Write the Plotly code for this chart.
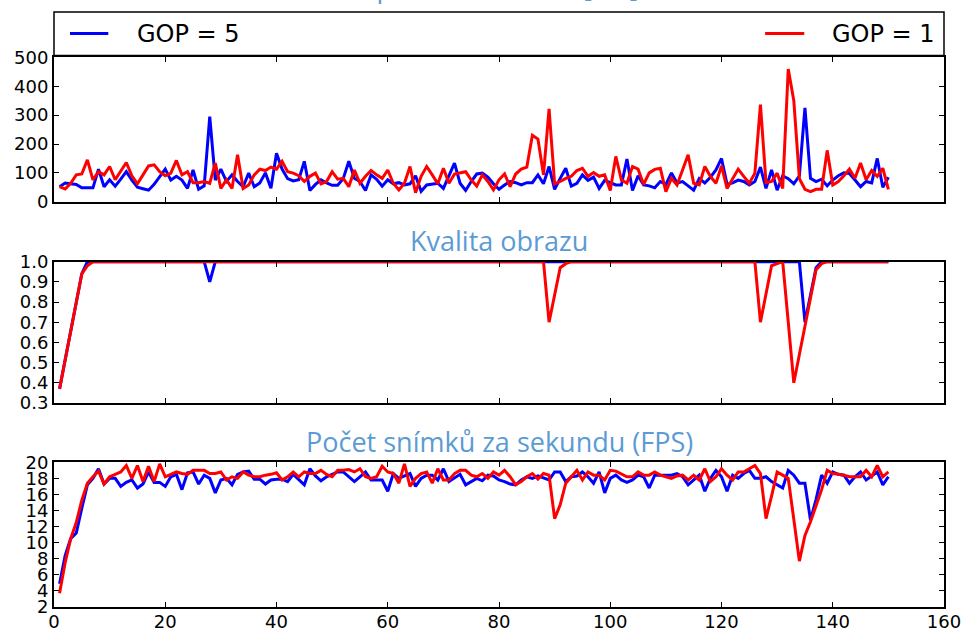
import plotly.graph_objects as go

frames = list(range(1, 151))

# Panel 1: delay [ms]
delay_gop5 = [
    52, 65, 62, 60, 48, 48, 48, 113, 52, 76,
    54, 78, 104, 75, 50, 45, 40, 60, 88, 113,
    75, 88, 75, 46, 110, 43, 55, 295, 75, 113,
    70, 93, 70, 52, 99, 52, 65, 100, 47, 168,
    113, 80, 72, 76, 140, 39, 60, 76, 65, 57,
    57, 80, 140, 81, 70, 39, 93, 78, 54, 76,
    62, 66, 58, 62, 90, 36, 58, 62, 64, 46,
    93, 134, 64, 39, 70, 96, 99, 85, 62, 43,
    58, 70, 66, 58, 66, 66, 93, 62, 122, 43,
    81, 116, 54, 64, 93, 74, 85, 46, 74, 66,
    58, 58, 148, 39, 90, 58, 55, 48, 70, 60,
    100, 65, 70, 55, 40, 80, 65, 85, 110, 150,
    60, 65, 75, 70, 58, 70, 120, 46, 110, 40,
    90, 80, 62, 90, 325, 81, 70, 78, 55, 75,
    90, 100, 98, 75, 52, 70, 65, 150, 50, 85,
]
delay_gop1 = [
    52, 44, 64, 93, 96, 145, 76, 104, 93, 122,
    76, 104, 136, 90, 62, 93, 124, 128, 104, 90,
    99, 143, 93, 104, 66, 66, 70, 64, 134, 46,
    76, 46, 163, 46, 58, 93, 113, 108, 120, 113,
    140, 104, 99, 90, 70, 88, 99, 62, 70, 104,
    78, 81, 52, 110, 64, 88, 108, 93, 81, 110,
    64, 41, 64, 122, 31, 88, 122, 93, 62, 116,
    64, 96, 101, 104, 76, 54, 93, 70, 41, 76,
    96, 52, 96, 113, 120, 230, 217, 93, 322, 62,
    70, 81, 88, 108, 116, 88, 101, 88, 93, 39,
    157, 76, 64, 122, 113, 60, 100, 112, 116, 35,
    81, 58, 110, 163, 64, 58, 122, 88, 64, 124,
    46, 80, 113, 88, 64, 99, 337, 66, 70, 99,
    46, 460, 350, 80, 43, 35, 43, 43, 178, 58,
    70, 90, 113, 81, 134, 76, 108, 88, 116, 43,
]

# Panel 2: image quality
quality_gop5 = [
    0.37, 0.51, 0.65, 0.80, 0.94, 1.0, 1.0, 1.0, 1.0, 1.0,
    1.0, 1.0, 1.0, 1.0, 1.0, 1.0, 1.0, 1.0, 1.0, 1.0,
    1.0, 1.0, 1.0, 1.0, 1.0, 1.0, 1.0, 0.90, 1.0, 1.0,
    1.0, 1.0, 1.0, 1.0, 1.0, 1.0, 1.0, 1.0, 1.0, 1.0,
    1.0, 1.0, 1.0, 1.0, 1.0, 1.0, 1.0, 1.0, 1.0, 1.0,
    1.0, 1.0, 1.0, 1.0, 1.0, 1.0, 1.0, 1.0, 1.0, 1.0,
    1.0, 1.0, 1.0, 1.0, 1.0, 1.0, 1.0, 1.0, 1.0, 1.0,
    1.0, 1.0, 1.0, 1.0, 1.0, 1.0, 1.0, 1.0, 1.0, 1.0,
    1.0, 1.0, 1.0, 1.0, 1.0, 1.0, 1.0, 1.0, 1.0, 1.0,
    1.0, 1.0, 1.0, 1.0, 1.0, 1.0, 1.0, 1.0, 1.0, 1.0,
    1.0, 1.0, 1.0, 1.0, 1.0, 1.0, 1.0, 1.0, 1.0, 1.0,
    1.0, 1.0, 1.0, 1.0, 1.0, 1.0, 1.0, 1.0, 1.0, 1.0,
    1.0, 1.0, 1.0, 1.0, 1.0, 1.0, 1.0, 1.0, 1.0, 1.0,
    1.0, 1.0, 1.0, 1.0, 0.70, 0.84, 0.97, 1.0, 1.0, 1.0,
    1.0, 1.0, 1.0, 1.0, 1.0, 1.0, 1.0, 1.0, 1.0, 1.0,
]
quality_gop1 = [
    0.37, 0.51, 0.65, 0.80, 0.94, 0.98, 1.0, 1.0, 1.0, 1.0,
    1.0, 1.0, 1.0, 1.0, 1.0, 1.0, 1.0, 1.0, 1.0, 1.0,
    1.0, 1.0, 1.0, 1.0, 1.0, 1.0, 1.0, 1.0, 1.0, 1.0,
    1.0, 1.0, 1.0, 1.0, 1.0, 1.0, 1.0, 1.0, 1.0, 1.0,
    1.0, 1.0, 1.0, 1.0, 1.0, 1.0, 1.0, 1.0, 1.0, 1.0,
    1.0, 1.0, 1.0, 1.0, 1.0, 1.0, 1.0, 1.0, 1.0, 1.0,
    1.0, 1.0, 1.0, 1.0, 1.0, 1.0, 1.0, 1.0, 1.0, 1.0,
    1.0, 1.0, 1.0, 1.0, 1.0, 1.0, 1.0, 1.0, 1.0, 1.0,
    1.0, 1.0, 1.0, 1.0, 1.0, 1.0, 1.0, 1.0, 0.70, 0.84,
    0.97, 0.99, 1.0, 1.0, 1.0, 1.0, 1.0, 1.0, 1.0, 1.0,
    1.0, 1.0, 1.0, 1.0, 1.0, 1.0, 1.0, 1.0, 1.0, 1.0,
    1.0, 1.0, 1.0, 1.0, 1.0, 1.0, 1.0, 1.0, 1.0, 1.0,
    1.0, 1.0, 1.0, 1.0, 1.0, 1.0, 0.70, 0.84, 0.98, 0.99,
    1.0, 0.70, 0.40, 0.54, 0.68, 0.83, 0.96, 0.99, 1.0, 1.0,
    1.0, 1.0, 1.0, 1.0, 1.0, 1.0, 1.0, 1.0, 1.0, 1.0,
]

# Panel 3: frames per second
fps_gop5 = [
    4.9, 8.4, 10.5, 11.2, 14.3, 17.2, 18.0, 19.2, 17.3, 18.0,
    18.0, 17.0, 17.5, 17.8, 16.8, 17.3, 18.8, 17.5, 17.5, 17.0,
    18.2, 18.5, 16.6, 18.7, 18.8, 17.3, 18.4, 18.0, 16.2, 17.8,
    18.0, 17.2, 18.5, 18.8, 18.9, 17.9, 17.9, 17.3, 17.8, 17.9,
    17.9, 17.6, 18.5, 17.8, 17.2, 19.2, 18.3, 17.7, 18.2, 18.5,
    18.8, 18.8, 18.2, 17.6, 18.2, 18.8, 17.8, 17.8, 17.8, 16.4,
    18.6, 18.0, 18.3, 18.6, 17.0, 18.0, 18.4, 18.4, 17.8, 19.2,
    17.6, 18.0, 18.5, 17.2, 17.6, 18.0, 17.7, 18.4, 18.3, 17.8,
    17.6, 17.3, 17.2, 17.8, 18.2, 18.0, 18.3, 18.0, 17.8, 18.8,
    18.8, 17.6, 18.2, 18.3, 18.8, 18.2, 17.4, 18.8, 16.2, 18.0,
    18.4, 17.8, 17.5, 17.8, 18.4, 18.2, 16.8, 18.4, 18.4, 18.4,
    18.4, 18.6, 18.2, 17.2, 17.8, 18.4, 16.4, 18.0, 19.0, 18.2,
    16.4, 18.4, 18.0, 18.6, 19.0, 18.0, 18.0, 18.2, 17.6, 17.2,
    16.8, 19.0, 18.4, 17.4, 17.4, 12.8, 15.4, 18.4, 17.4, 18.8,
    18.5, 18.4, 17.4, 18.2, 18.8, 17.8, 18.3, 18.8, 17.2, 18.2,
]
fps_gop1 = [
    3.7, 7.5, 10.5, 12.5, 15.3, 17.4, 18.2, 18.9, 17.3, 18.2,
    18.5, 18.8, 19.6, 18.0, 19.6, 17.6, 19.5, 17.6, 19.8, 18.2,
    18.5, 18.8, 18.6, 18.5, 19.0, 19.0, 19.0, 18.6, 18.6, 18.8,
    17.8, 18.2, 18.0, 18.8, 18.4, 18.2, 18.2, 18.4, 18.5, 18.7,
    17.8, 18.2, 18.8, 18.2, 18.8, 18.6, 18.6, 19.0, 18.5, 18.2,
    19.0, 19.0, 19.1, 18.8, 19.2, 18.2, 18.0, 18.2, 19.5, 18.8,
    18.6, 17.4, 19.8, 17.0, 18.0, 18.6, 18.8, 17.4, 19.2, 17.8,
    17.8, 18.6, 19.0, 19.0, 18.4, 18.2, 18.6, 18.0, 18.8, 18.4,
    19.0, 18.2, 17.2, 17.6, 18.2, 18.6, 17.9, 18.6, 18.4, 13.0,
    14.7, 17.4, 18.2, 19.0, 17.8, 18.8, 18.4, 18.4, 17.8, 19.0,
    18.9, 18.5, 18.2, 18.2, 18.8, 18.4, 18.4, 18.8, 18.4, 18.2,
    18.0, 18.3, 18.4, 17.8, 18.4, 17.8, 19.2, 17.6, 18.2, 19.2,
    18.4, 17.8, 18.8, 18.8, 19.2, 19.6, 18.6, 13.0, 15.8, 18.8,
    18.4, 18.0, 12.9, 7.7, 10.9, 12.6, 14.6, 16.6, 19.0, 18.6,
    18.5, 18.4, 18.2, 18.2, 18.2, 19.0, 18.2, 19.6, 18.2, 18.8,
]

series_names = ["GOP = 5", "GOP = 1"]
series_colors = ["#0000ff", "#ff0000"]
titles = ["Zpoždění snímku [ms]", "Kvalita obrazu", "Počet snímků za sekundu (FPS)"]

fig = go.Figure()
panels = [
    (delay_gop5, delay_gop1, "x", "y"),
    (quality_gop5, quality_gop1, "x2", "y2"),
    (fps_gop5, fps_gop1, "x3", "y3"),
]
for s5, s1, xa, ya in panels:
    for vals, name, col in zip([s5, s1], series_names, series_colors):
        fig.add_trace(go.Scatter(x=frames, y=vals, mode="lines", name=name,
                                 line=dict(color=col, width=3),
                                 xaxis=xa, yaxis=ya, showlegend=False,
                                 hoverinfo="skip"))

tickfont = dict(family="DejaVu Sans", size=18, color="black")
common = dict(showline=True, linecolor="black", linewidth=2, mirror="ticks",
              ticks="inside", ticklen=5, tickwidth=1, tickcolor="black",
              showgrid=False, zeroline=False, tickfont=tickfont,
              automargin=False)

d1 = [0.6677, 0.9053]
d2 = [0.3361, 0.5689]
d3 = [0.0, 0.2384]

fig.update_layout(
    template="none",
    width=968, height=633,
    margin=dict(l=54, r=24, t=0, b=26, pad=0),
    paper_bgcolor="white", plot_bgcolor="white",
    showlegend=False,
    xaxis=dict(domain=[0, 1], range=[0, 160], dtick=20, anchor="y",
               showticklabels=False, **common),
    yaxis=dict(domain=d1, range=[0, 500], dtick=100, anchor="x", **common),
    xaxis2=dict(domain=[0, 1], range=[0, 160], dtick=20, anchor="y2",
                showticklabels=False, **common),
    yaxis2=dict(domain=d2, range=[0.3, 1.0], dtick=0.1, tickformat=".1f",
                anchor="x2", **common),
    xaxis3=dict(domain=[0, 1], range=[0, 160], dtick=20, anchor="y3",
                ticklabelstandoff=-3, **common),
    yaxis3=dict(domain=d3, range=[2, 20], dtick=2, anchor="x3", **common),
)

title_font = dict(family="Open Sans", size=27, color="#5b9bd5")
fig.add_annotation(text=titles[0], x=0.5, xref="paper", y=0.990, yref="paper",
                   xanchor="center", yanchor="bottom", showarrow=False,
                   font=title_font, borderpad=0)
fig.add_annotation(text=titles[1], x=0.5, xref="paper", y=d2[1] + 0.003, yref="paper",
                   xanchor="center", yanchor="bottom", showarrow=False,
                   font=title_font, borderpad=0)
fig.add_annotation(text=titles[2], x=0.5, xref="paper", y=d3[1] + 0.002, yref="paper",
                   xanchor="center", yanchor="bottom", showarrow=False,
                   font=title_font, borderpad=0)

# legend box (expanded across the top axis)
leg_y0, leg_y1, leg_mid = 0.9086, 0.9802, 0.9448
fig.add_shape(type="rect", xref="paper", yref="paper", x0=0, x1=1,
              y0=leg_y0, y1=leg_y1, line=dict(color="black", width=1.5),
              fillcolor="white", layer="above")
legend_items = [(0.018, 0.061, 0.091), (0.799, 0.843, 0.872)]
legend_font = dict(family="DejaVu Sans", size=24, color="black")
for (k0, k1, tx), name, col in zip(legend_items, series_names, series_colors):
    fig.add_shape(type="line", xref="paper", yref="paper", x0=k0, x1=k1,
                  y0=leg_mid, y1=leg_mid, line=dict(color=col, width=3),
                  layer="above")
    fig.add_annotation(text=name, x=tx, xref="paper", y=leg_mid, yref="paper",
                       xanchor="left", yanchor="middle", showarrow=False,
                       font=legend_font)

fig.write_html("out.html", config={"displayModeBar": False},
               post_script="document.body.style.margin='0';"
                           "document.body.style.overflow='hidden';")
